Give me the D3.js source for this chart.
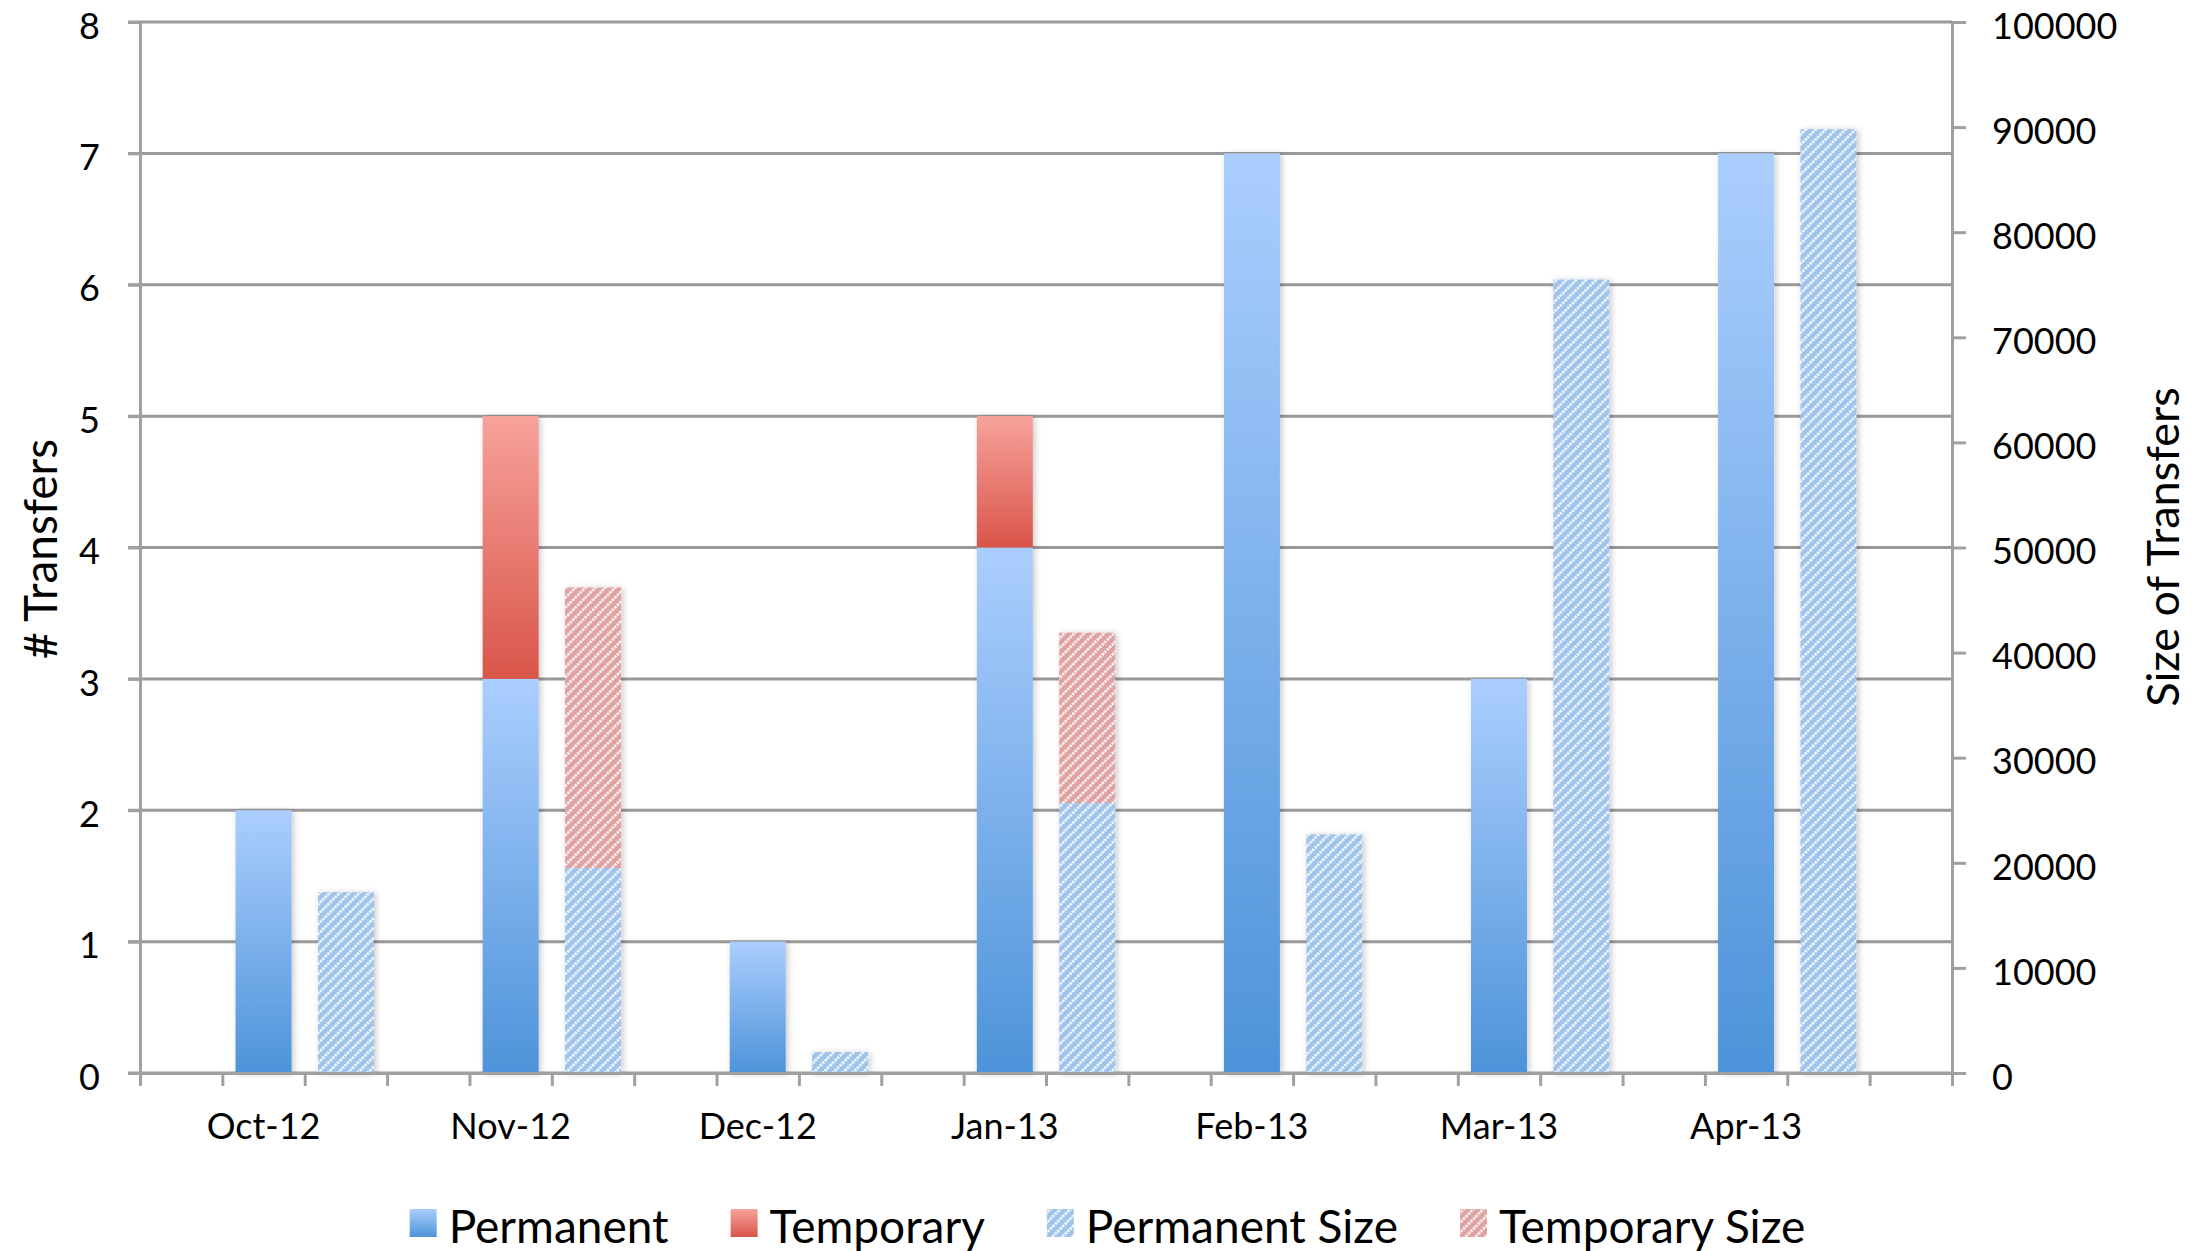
<!DOCTYPE html>
<html>
<head>
<meta charset="utf-8">
<script src="https://cdnjs.cloudflare.com/ajax/libs/d3/7.8.5/d3.min.js"></script>
<style>
  html, body { margin: 0; padding: 0; background: #fff; }
  svg { display: block; font-family: Lato, "Open Sans", sans-serif; }
</style>
</head>
<body>
<div id="chart"></div>
<script>
// months on the category axis
const months = ['Oct-12', 'Nov-12', 'Dec-12', 'Jan-13', 'Feb-13', 'Mar-13', 'Apr-13'];

// number of transfers (left axis)
const permanent = [2, 3, 1, 4, 7, 3, 7];
const temporary = [0, 2, 0, 1, 0, 0, 0];

// size of transfers (right axis)
const permanentSize = [17200, 19500, 2000, 25700, 22700, 75500, 89800];
const temporarySize = [0, 26700, 0, 16200, 0, 0, 0];

const leftTicks = [0, 1, 2, 3, 4, 5, 6, 7, 8];
const rightTicks = [0, 10000, 20000, 30000, 40000, 50000, 60000, 70000, 80000, 90000, 100000];

const legendItems = [
    { label: 'Permanent', fill: 'url(#gradPerm)' },
    { label: 'Temporary', fill: 'url(#gradTemp)' },
    { label: 'Permanent Size', fill: 'url(#hatchPerm)' },
    { label: 'Temporary Size', fill: 'url(#hatchTemp)' },
];

const W = 2204, H = 1251;
const plot = { left: 140, right: 1952, top: 22, bottom: 1073 };
const gridColor = '#999999';
const axisColor = '#a0a0a0';

const svg = d3.select('#chart')
    .append('svg')
    .attr('width', W)
    .attr('height', H);

svg.append('rect').attr('width', W).attr('height', H).attr('fill', '#fff');

const defs = svg.append('defs');

function gradient(id, top, bottom) {
    const g = defs.append('linearGradient')
        .attr('id', id)
        .attr('x1', 0).attr('y1', 0)
        .attr('x2', 0).attr('y2', 1);
    g.append('stop').attr('offset', '0%').attr('stop-color', top);
    g.append('stop').attr('offset', '100%').attr('stop-color', bottom);
}
gradient('gradPerm', '#abcefe', '#4d93d9');
gradient('gradTemp', '#f7a29b', '#d9554a');

function hatch(id, bg) {
    const p = defs.append('pattern')
        .attr('id', id)
        .attr('patternUnits', 'userSpaceOnUse')
        .attr('width', 7)
        .attr('height', 7)
        .attr('patternTransform', 'rotate(45)');
    p.append('rect').attr('width', 7).attr('height', 7).attr('fill', bg);
    p.append('line')
        .attr('x1', 3.5).attr('y1', 0)
        .attr('x2', 3.5).attr('y2', 7)
        .attr('stroke', '#fff')
        .attr('stroke-width', 2.4)
        .attr('stroke-dasharray', '2.5 1');
}
hatch('hatchPerm', '#a0c3ec');
hatch('hatchTemp', '#dfa1a1');

const shadow = defs.append('filter')
    .attr('id', 'shadow')
    .attr('x', '-30%').attr('y', '-10%')
    .attr('width', '160%').attr('height', '120%');
shadow.append('feDropShadow')
    .attr('dx', 2).attr('dy', 1)
    .attr('stdDeviation', 3)
    .attr('flood-color', '#000')
    .attr('flood-opacity', 0.22);

// 3 slots per month (gap, count bar, size bar) + trailing gap = 22 slots
const slots = [];
months.forEach(m => { slots.push(m + '|gap', m + '|count', m + '|size'); });
slots.push('end');

const x = d3.scaleBand()
    .domain(slots)
    .range([plot.left, plot.right])
    .paddingInner(0.32)
    .paddingOuter(0.16);

const xTicks = d3.scaleLinear()
    .domain([0, slots.length])
    .range([plot.left, plot.right]);

const yL = d3.scaleLinear().domain([0, 8]).range([plot.bottom, plot.top]);
const yR = d3.scaleLinear().domain([0, 100000]).range([plot.bottom, plot.top]);

// Grid lines
svg.append('g')
    .selectAll('line')
    .data(leftTicks)
    .enter()
    .append('line')
    .attr('x1', plot.left - 12)
    .attr('x2', plot.right)
    .attr('y1', d => yL(d))
    .attr('y2', d => yL(d))
    .attr('stroke', gridColor)
    .attr('stroke-width', 3);

// Bars
const rows = months.map((m, i) => ({
    month: m,
    perm: permanent[i],
    temp: temporary[i],
    permSize: permanentSize[i],
    tempSize: temporarySize[i],
}));

const bars = svg.append('g').attr('filter', 'url(#shadow)');

bars.selectAll('.perm')
    .data(rows)
    .enter()
    .append('rect')
    .attr('x', d => x(d.month + '|count'))
    .attr('width', x.bandwidth())
    .attr('y', d => yL(d.perm))
    .attr('height', d => yL(0) - yL(d.perm))
    .attr('fill', 'url(#gradPerm)');

bars.selectAll('.temp')
    .data(rows.filter(d => d.temp > 0))
    .enter()
    .append('rect')
    .attr('x', d => x(d.month + '|count'))
    .attr('width', x.bandwidth())
    .attr('y', d => yL(d.perm + d.temp))
    .attr('height', d => yL(d.perm) - yL(d.perm + d.temp))
    .attr('fill', 'url(#gradTemp)');

bars.selectAll('.permSize')
    .data(rows)
    .enter()
    .append('rect')
    .attr('x', d => x(d.month + '|size'))
    .attr('width', x.bandwidth())
    .attr('y', d => yR(d.permSize))
    .attr('height', d => yR(0) - yR(d.permSize))
    .attr('fill', 'url(#hatchPerm)');

bars.selectAll('.tempSize')
    .data(rows.filter(d => d.tempSize > 0))
    .enter()
    .append('rect')
    .attr('x', d => x(d.month + '|size'))
    .attr('width', x.bandwidth())
    .attr('y', d => yR(d.permSize + d.tempSize))
    .attr('height', d => yR(d.permSize) - yR(d.permSize + d.tempSize))
    .attr('fill', 'url(#hatchTemp)');

// Axes
function styleAxis(g) {
    g.selectAll('path, line').attr('stroke', axisColor).attr('stroke-width', 3);
    g.selectAll('text')
        .attr('fill', '#000')
        .style('font-size', '36px')
        .style('font-family', 'Lato, "Open Sans", sans-serif');
}

svg.append('g')
    .attr('transform', `translate(${plot.left},0)`)
    .call(d3.axisLeft(yL).tickValues(leftTicks).tickSize(12).tickSizeOuter(0).tickPadding(28))
    .call(styleAxis)
    .call(g => g.selectAll('text').attr('dy', '0.45em'));

svg.append('g')
    .attr('transform', `translate(${plot.right},0)`)
    .call(d3.axisRight(yR).tickValues(rightTicks).tickSize(14).tickSizeOuter(0).tickPadding(26)
        .tickFormat(d3.format('d')))
    .call(styleAxis)
    .call(g => g.selectAll('text').attr('dy', '0.45em'));

svg.append('g')
    .attr('transform', `translate(0,${plot.bottom})`)
    .call(d3.axisBottom(xTicks).tickValues(d3.range(0, slots.length + 1)).tickSize(13)
        .tickSizeOuter(0).tickFormat(''))
    .call(styleAxis);

// Month labels
svg.append('g')
    .selectAll('text')
    .data(months)
    .enter()
    .append('text')
    .attr('x', d => x(d + '|count') + x.bandwidth() / 2)
    .attr('y', 1139)
    .attr('text-anchor', 'middle')
    .style('font-size', '36px')
    .text(d => d);

// Axis titles
svg.append('text')
    .attr('transform', 'translate(39,549) rotate(-90)')
    .attr('text-anchor', 'middle')
    .attr('dominant-baseline', 'central')
    .style('font-size', '46px')
    .text('# Transfers');

svg.append('text')
    .attr('transform', 'translate(2162,547) rotate(-90)')
    .attr('text-anchor', 'middle')
    .attr('dominant-baseline', 'central')
    .style('font-size', '45px')
    .text('Size of Transfers');

// Legend
const legend = svg.append('g');
const items = legend.selectAll('g')
    .data(legendItems)
    .enter()
    .append('g');

items.append('rect')
    .attr('width', 27)
    .attr('height', 28)
    .attr('y', 1209)
    .attr('fill', d => d.fill);

items.append('text')
    .attr('x', 39)
    .attr('y', 1225)
    .attr('dominant-baseline', 'central')
    .style('font-size', '46px')
    .text(d => d.label);

const widths = [];
items.each(function() {
    widths.push(39 + d3.select(this).select('text').node().getComputedTextLength());
});
const gap = 62;
const total = d3.sum(widths) + gap * (widths.length - 1);
let offset = 403 + (1812 - 403 - total) / 2;
items.each(function(d, i) {
    d3.select(this).attr('transform', `translate(${offset},0)`);
    offset += widths[i] + gap;
});
</script>
</body>
</html>
